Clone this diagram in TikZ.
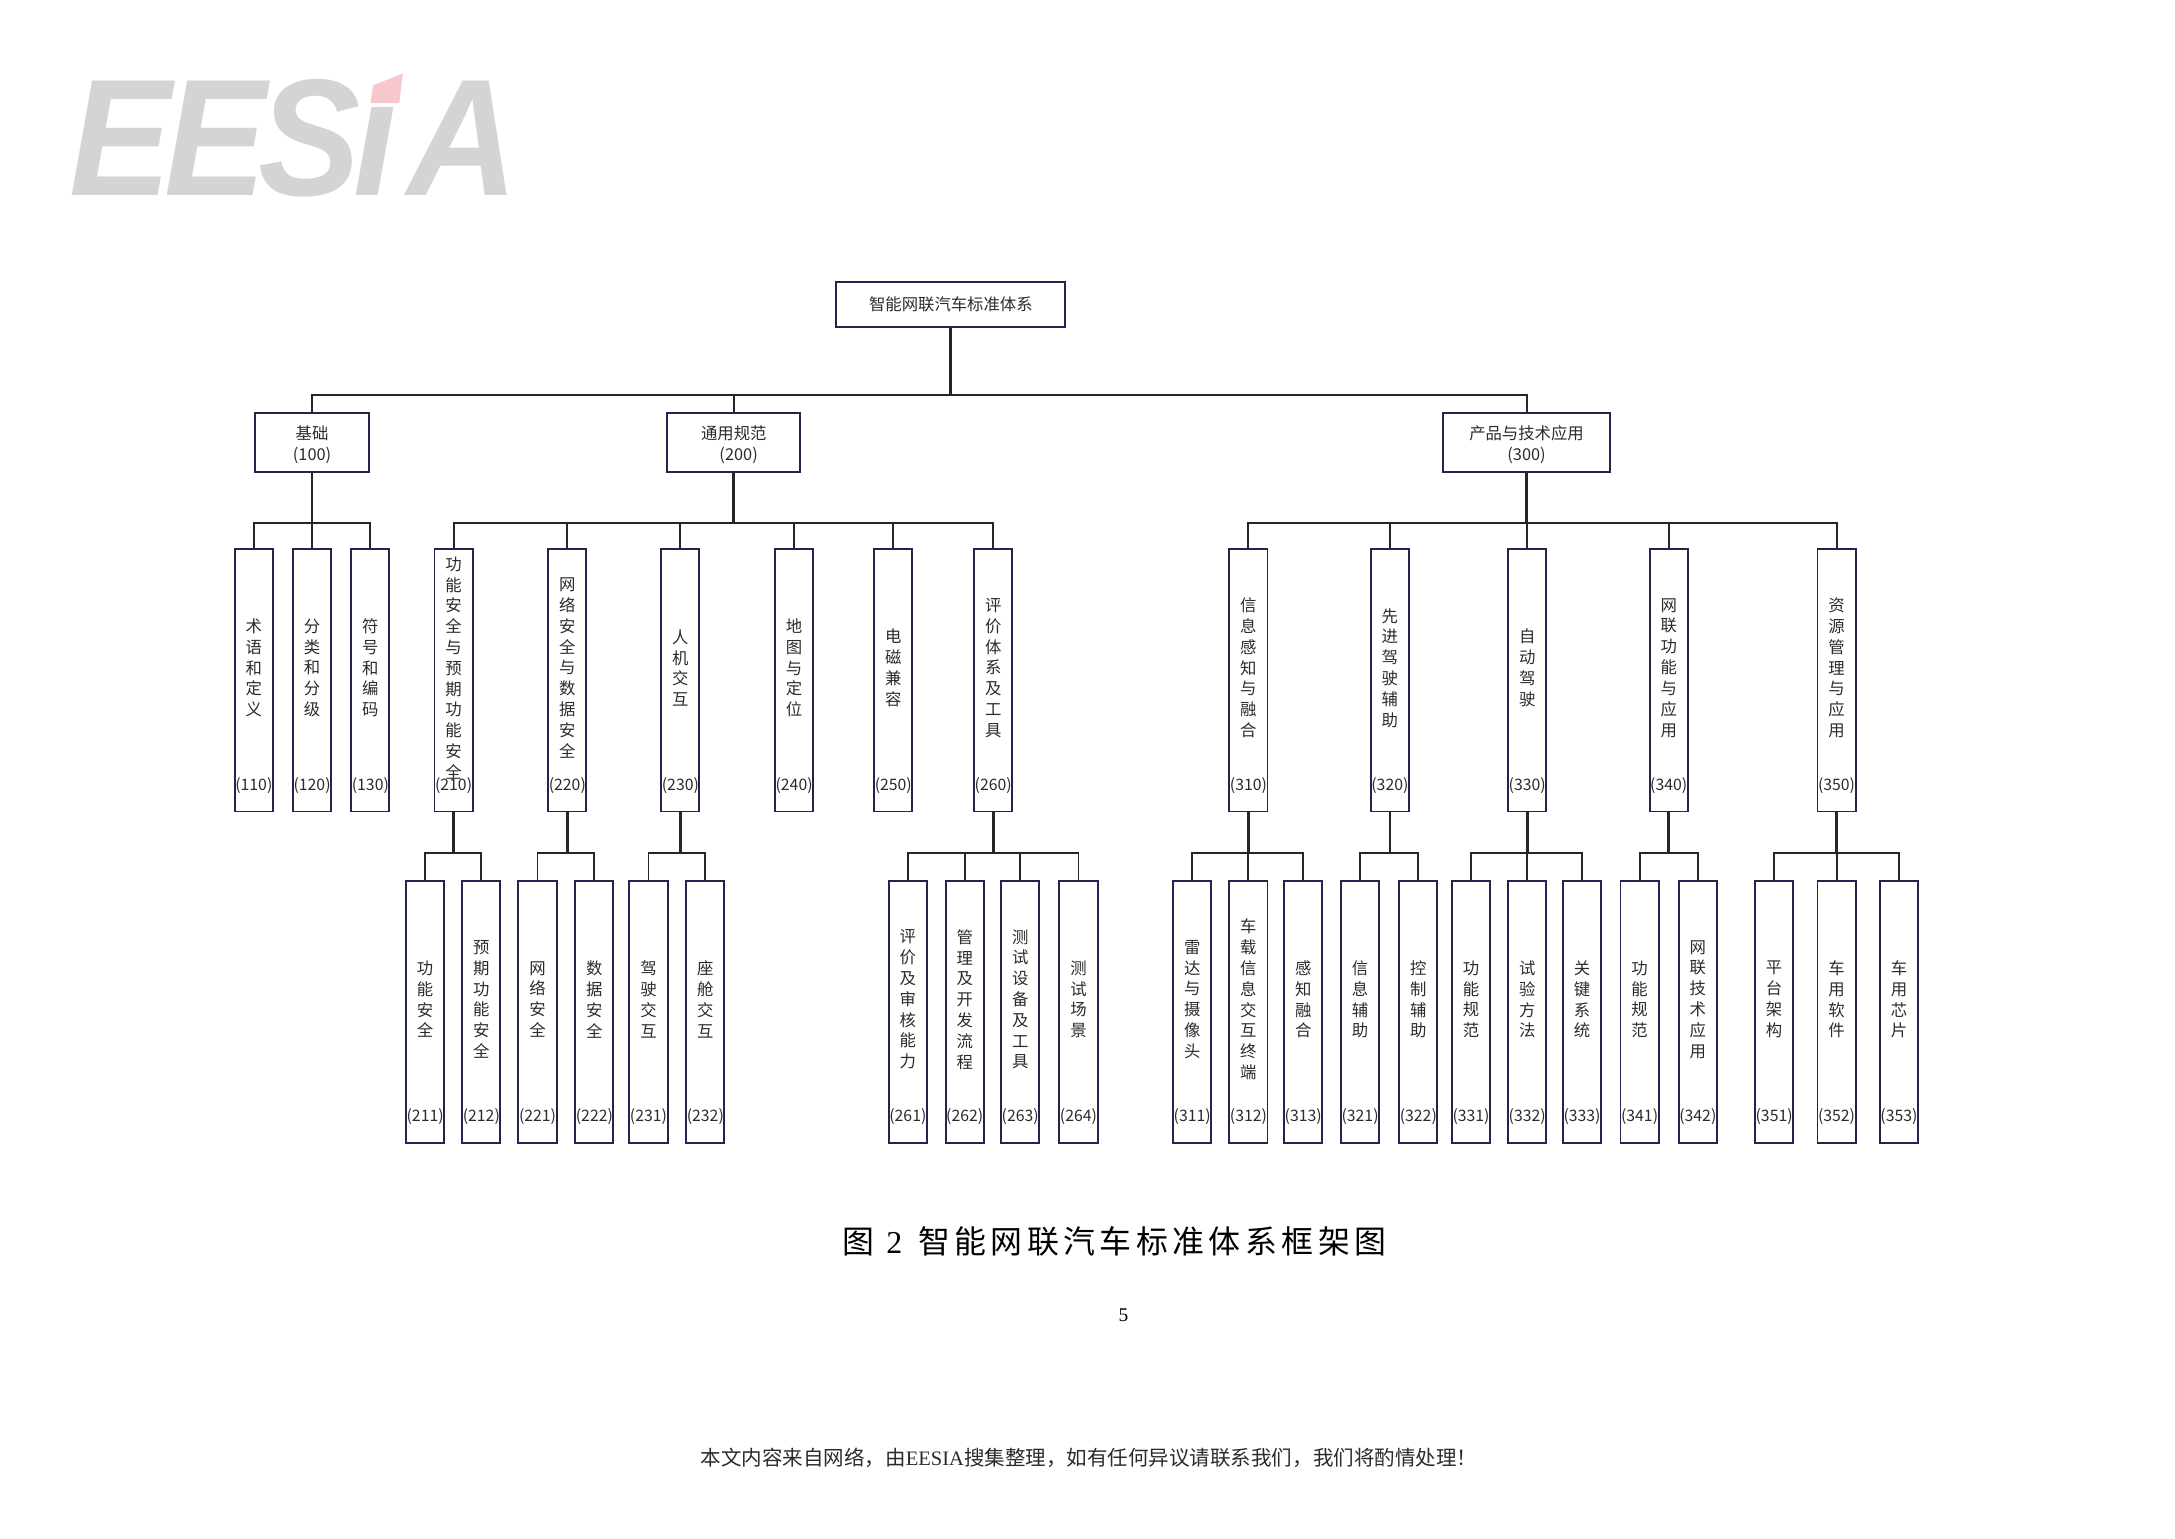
\documentclass[tikz,border=0pt]{standalone}
\usepackage{fontspec}
\setmainfont{Noto Sans CJK SC}
\newfontfamily\logofont[BoldItalicFont=Liberation Sans Bold Italic,LetterSpace=-5]{Liberation Sans}
\newfontfamily\latinfont{Liberation Serif}
\newfontfamily\capfont[LetterSpace=14]{Noto Sans CJK SC}
\definecolor{boxblue}{HTML}{23234F}
\definecolor{wire}{HTML}{262626}
\definecolor{inktext}{HTML}{2B2B2B}
\definecolor{logogray}{HTML}{D4D4D4}
\definecolor{logopink}{HTML}{F6C8CC}
\newcommand{\tightrows}{\baselineskip=14.3pt }
\tikzset{
  topbox/.style={draw=boxblue,line width=1.4pt,minimum height=42pt,inner sep=0pt,outer sep=0pt},
  toptext/.style={inner sep=0pt,align=center,text=inktext,font=\fontsize{11.8}{15}\selectfont},
  leafbox/.style={draw=boxblue,line width=1.4pt,minimum width=27.5pt,minimum height=189pt,inner sep=0pt,outer sep=0pt},
  leaftext/.style={inner sep=0pt,align=center,text=inktext,font=\fontsize{11.8}{15}\selectfont},
  leafnum/.style={inner sep=0pt,text=inktext,font=\fontsize{11.4}{12}\selectfont},
  link/.style={draw=wire,line width=1.4pt},
  stem/.style={draw=wire,line width=2pt}
}
\begin{document}
\begin{tikzpicture}[x=1pt,y=-1pt]
\useasboundingbox (0,0) rectangle (1568,1108.8);
% logo
\node[inner sep=0pt,anchor=south west,text=logogray,font=\logofont\bfseries\itshape\fontsize{120}{120}\selectfont,xscale=0.92,transform shape] (logo) at (50,142) {EESI\kern 9pt A};
\fill[white] (261,50) rectangle (298,76.8);
\fill[logopink] (269,61.5) -- (290.4,53) -- (287.8,74.4) -- (267.1,74.4) -- cycle;
% top levels
\node[topbox,minimum width=165pt,minimum height=33pt] (root) at (685.5,219.5) {};
\node[toptext] (troot) at (root.center) {智能网联汽车标准体系};
\node[topbox,minimum width=82pt] (n100) at (225,319) {};
\node[toptext] (t100) at ([yshift=-1.5pt]n100.center) {基础\\(100)};
\node[topbox,minimum width=96pt] (n200) at (529,319) {};
\node[toptext] (t200) at ([yshift=-1.5pt]n200.center) {通用规范\\\hspace*{7pt}(200)};
\node[topbox,minimum width=121pt] (n300) at (1100.5,319) {};
\node[toptext] (t300) at ([yshift=-1.5pt]n300.center) {产品与技术应用\\(300)};
% second level
\foreach \id/\x/\txt in {
  110/183/术\\语\\和\\定\\义,
  120/225/分\\类\\和\\分\\级,
  130/267/符\\号\\和\\编\\码,
  210/327/\tightrows 功\\能\\安\\全\\与\\预\\期\\功\\能\\安\\全,
  220/409/网\\络\\安\\全\\与\\数\\据\\安\\全,
  230/490.5/人\\机\\交\\互,
  240/572.5/地\\图\\与\\定\\位,
  250/644/电\\磁\\兼\\容,
  260/716/评\\价\\体\\系\\及\\工\\具,
  310/900/信\\息\\感\\知\\与\\融\\合,
  320/1002/先\\进\\驾\\驶\\辅\\助,
  330/1101/自\\动\\驾\\驶,
  340/1203/网\\联\\功\\能\\与\\应\\用,
  350/1324/资\\源\\管\\理\\与\\应\\用}{
  \node[leafbox] (n\id) at (\x,490.5) {};
  \node[leaftext] (t\id) at ([yshift=9pt]n\id.center) {\txt};
  \node[leafnum] (c\id) at ([yshift=19pt]n\id.south) {(\id)};
}
% third level
\foreach \id/\x/\txt in {
  211/306.5/功\\能\\安\\全,
  212/347/预\\期\\功\\能\\安\\全,
  221/387.5/网\\络\\安\\全,
  222/428.5/数\\据\\安\\全,
  231/467.5/驾\\驶\\交\\互,
  232/508.5/座\\舱\\交\\互,
  261/654.5/评\\价\\及\\审\\核\\能\\力,
  262/695.5/管\\理\\及\\开\\发\\流\\程,
  263/735.5/测\\试\\设\\备\\及\\工\\具,
  264/777.5/测\\试\\场\\景,
  311/859.5/雷\\达\\与\\摄\\像\\头,
  312/900/车\\载\\信\\息\\交\\互\\终\\端,
  313/939.5/感\\知\\融\\合,
  321/980.5/信\\息\\辅\\助,
  322/1022.5/控\\制\\辅\\助,
  331/1060.5/功\\能\\规\\范,
  332/1101/试\\验\\方\\法,
  333/1140.5/关\\键\\系\\统,
  341/1182/功\\能\\规\\范,
  342/1224/网\\联\\技\\术\\应\\用,
  351/1279/平\\台\\架\\构,
  352/1324/车\\用\\软\\件,
  353/1369/车\\用\\芯\\片}{
  \node[leafbox] (n\id) at (\x,729.5) {};
  \node[leaftext] (t\id) at ([yshift=9pt]n\id.center) {\txt};
  \node[leafnum] (c\id) at ([yshift=19pt]n\id.south) {(\id)};
}
% connectors
\coordinate (busroot) at ([yshift=-49pt]root.south);
\draw[stem] (root.south) -- (busroot);
\foreach \c in {100,200,300}
  \draw[link] (busroot) -| (n\c.north);
\foreach \p/\drop/\kids in {
  100/37/{110,120,130},
  200/37/{210,220,230,240,250,260},
  300/37/{310,320,330,340,350},
  210/30/{211,212},
  220/30/{221,222},
  230/30/{231,232},
  260/30/{261,262,263,264},
  310/30/{311,312,313},
  320/30/{321,322},
  330/30/{331,332,333},
  340/30/{341,342},
  350/30/{351,352,353}}{
  \coordinate (bus\p) at ([yshift=-\drop pt]n\p.south);
  \draw[stem] (n\p.south) -- (bus\p);
  \foreach \c in \kids
    \draw[link] (bus\p) -| (n\c.north);
}
% caption and page text
\node[inner sep=0pt,text=black,font=\capfont\fontsize{23}{26}\selectfont] (caption) at (803.5,895) {图 {\latinfont 2}\hspace*{3pt} 智能网联汽车标准体系框架图};
\node[inner sep=0pt,text=black,font=\latinfont\fontsize{14}{16}\selectfont] (pagenum) at (810,948) {5};
\node[inner sep=0pt,text=inktext,font=\fontsize{14.8}{16}\selectfont] (source) at (785,1051) {本文内容来自网络，由{\latinfont EESIA}搜集整理，如有任何异议请联系我们，我们将酌情处理！};
\end{tikzpicture}
\end{document}
